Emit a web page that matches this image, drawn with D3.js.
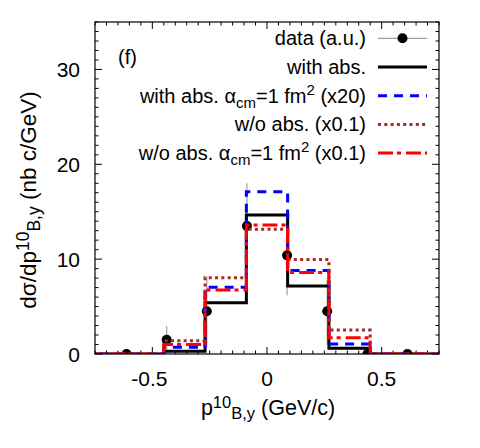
<!DOCTYPE html>
<html>
<head>
<meta charset="utf-8">
<script src="https://cdn.jsdelivr.net/npm/d3@7"></script>
<style>
  html, body { margin: 0; padding: 0; background: #fff; }
  svg { display: block; }
  text { font-family: "Liberation Sans", Arial, Helvetica, sans-serif; fill: #000; }
</style>
</head>
<body>
<svg id="chart" width="480" height="448"></svg>
<script>
// ---- data ----
const binEdges = [-0.45, -0.27, -0.09, 0.09, 0.27, 0.45];
const withAbs = [0.3, 5.4, 14.65, 7.17, 0.6];
const withAbsAlpha = [0.7, 7.05, 17.1, 8.8, 1.05];
const woAbs = [1.4, 8.05, 13.15, 9.95, 2.52];
const woAbsAlpha = [1.0, 6.75, 13.6, 8.6, 1.7];

const dataX = [-0.6125, -0.4375, -0.2625, -0.0875, 0.0875, 0.2625, 0.4375, 0.6125];
const dataY = [0, 1.5, 4.5, 13.5, 10.4, 4.5, 0, 0];
const dataErr = [0, 1.45, 3.7, 4.5, 4.2, 3.5, 0, 0];

const xTicks = [-0.5, 0, 0.5];
const xTickLabels = ["-0.5", "0", "0.5"];
const yTicks = [0, 10, 20, 30];
const yTickLabels = ["0", "10", "20", "30"];

// ---- layout ----
const svg = d3.select("#chart");
const L = 95, R = 439, T = 22, B = 354;
const x = d3.scaleLinear().domain([-0.75, 0.75]).range([L, R]);
const y = d3.scaleLinear().domain([0, 35]).range([B, T]);

const tickFs = 21, axisFs = 21.5, axisSubFs = 16.5, yAxisFs = 22.5, yAxisSubFs = 17.5, legFs = 20, legSubFs = 15;

svg.append("clipPath").attr("id", "clip")
  .append("rect").attr("x", L).attr("y", T).attr("width", R - L).attr("height", B - T);

// ticks (mirrored, inward)
const minorX = d3.range(-0.75, 0.7501, 0.05).map(v => +v.toFixed(3));
const minorY = d3.range(0, 35.01, 1);
const tg = svg.append("g").attr("stroke", "#000").attr("stroke-width", 1);
minorX.forEach(v => {
  const isMajor = xTicks.some(t => Math.abs(t - v) < 1e-6);
  const len = isMajor ? 7 : 3.5;
  tg.append("line").attr("x1", x(v)).attr("x2", x(v)).attr("y1", B).attr("y2", B - len);
  tg.append("line").attr("x1", x(v)).attr("x2", x(v)).attr("y1", T).attr("y2", T + len);
});
minorY.forEach(v => {
  const isMajor = yTicks.includes(v);
  const len = isMajor ? 7 : 3.5;
  tg.append("line").attr("y1", y(v)).attr("y2", y(v)).attr("x1", L).attr("x2", L + len);
  tg.append("line").attr("y1", y(v)).attr("y2", y(v)).attr("x1", R).attr("x2", R - len);
});

// tick labels
xTicks.forEach((v, i) => {
  svg.append("text").attr("x", x(v) - (v < 0 ? 3 : 0)).attr("y", 386).attr("text-anchor", "middle")
    .attr("font-size", tickFs).text(xTickLabels[i]);
});
yTicks.forEach((v, i) => {
  svg.append("text").attr("x", 80).attr("y", y(v) + 7.5).attr("text-anchor", "end")
    .attr("font-size", tickFs).text(yTickLabels[i]);
});

// axis titles
const xl = svg.append("text").attr("x", 268).attr("y", 415).attr("text-anchor", "middle").attr("font-size", axisFs);
xl.append("tspan").text("p");
xl.append("tspan").attr("font-size", axisSubFs).attr("dy", -7).text("10");
xl.append("tspan").attr("font-size", axisSubFs).attr("dy", 11).text("B,y");
xl.append("tspan").attr("dy", -4).text(" (GeV/c)");

const yl = svg.append("text").attr("transform", "translate(36,200) rotate(-90)")
  .attr("text-anchor", "middle").attr("font-size", yAxisFs);
yl.append("tspan").text("dσ/dp");
yl.append("tspan").attr("font-size", yAxisSubFs).attr("dy", -7).text("10");
yl.append("tspan").attr("font-size", yAxisSubFs).attr("dy", 11).text("B,y");
yl.append("tspan").attr("dy", -4).text(" (nb c/GeV)");

// (f)
svg.append("text").attr("x", 118).attr("y", 64).attr("font-size", legFs).text("(f)");

// ---- plot contents ----
const plot = svg.append("g").attr("clip-path", "url(#clip)");

// data error bars and points
const errColor = "#a0a0a0";
dataX.forEach((xv, i) => {
  if (dataErr[i] > 0) {
    plot.append("line").attr("x1", x(xv)).attr("x2", x(xv))
      .attr("y1", y(dataY[i] - dataErr[i])).attr("y2", y(dataY[i] + dataErr[i]))
      .attr("stroke", errColor).attr("stroke-width", 1.2);
  }
});
plot.selectAll("circle.pt").data(dataX).enter().append("circle")
  .attr("class", "pt")
  .attr("cx", d => x(d)).attr("cy", (d, i) => y(dataY[i])).attr("r", 5).attr("fill", "#000");

function stepPoints(vals) {
  const pts = [[-0.8, 0]];
  vals.forEach((v, i) => pts.push([binEdges[i], v]));
  pts.push([binEdges[binEdges.length - 1], 0]);
  pts.push([0.8, 0]);
  return pts;
}
const line = d3.line().x(d => x(d[0])).y(d => y(d[1])).curve(d3.curveStepAfter);

const series = [
  { vals: withAbs, color: "#000000", dash: null },
  { vals: withAbsAlpha, color: "#0000ff", dash: "9,7" },
  { vals: woAbs, color: "#a52a2a", dash: "3,3.3" },
  { vals: woAbsAlpha, color: "#ff0000", dash: "15,4,4,5" },
];
series.forEach(s => {
  plot.append("path").attr("d", line(stepPoints(s.vals)))
    .attr("fill", "none").attr("stroke", s.color).attr("stroke-width", 3)
    .attr("stroke-dasharray", s.dash);
});

// frame
svg.append("rect").attr("x", L).attr("y", T).attr("width", R - L).attr("height", B - T)
  .attr("fill", "none").attr("stroke", "#000").attr("stroke-width", 1.2);

// ---- legend ----
const legY0 = 38.3, legDy = 28.7, legTextX = 366, legL1 = 378, legL2 = 427;
function legText(row, parts) {
  const t = svg.append("text").attr("x", legTextX).attr("y", legY0 + row * legDy + 7)
    .attr("text-anchor", "end").attr("font-size", legFs);
  parts.forEach(p => {
    const ts = t.append("tspan").text(p.t);
    if (p.fs) ts.attr("font-size", p.fs);
    if (p.dy) ts.attr("dy", p.dy);
  });
}
legText(0, [{ t: "data (a.u.)" }]);
svg.append("line").attr("x1", legL1).attr("x2", legL2).attr("y1", legY0).attr("y2", legY0)
  .attr("stroke", errColor).attr("stroke-width", 1.2);
svg.append("circle").attr("cx", (legL1 + legL2) / 2).attr("cy", legY0).attr("r", 5).attr("fill", "#000");
legText(1, [{ t: "with abs." }]);
legText(2, [{ t: "with abs. α" }, { t: "cm", fs: legSubFs, dy: 5 }, { t: "=1 fm", dy: -5 }, { t: "2", fs: legSubFs, dy: -8 }, { t: " (x20)", dy: 8 }]);
legText(3, [{ t: "w/o abs. (x0.1)" }]);
legText(4, [{ t: "w/o abs. α" }, { t: "cm", fs: legSubFs, dy: 5 }, { t: "=1 fm", dy: -5 }, { t: "2", fs: legSubFs, dy: -8 }, { t: " (x0.1)", dy: 8 }]);

series.forEach((s, i) => {
  const yy = legY0 + (i + 1) * legDy;
  svg.append("line").attr("x1", legL1).attr("x2", legL2).attr("y1", yy).attr("y2", yy)
    .attr("stroke", s.color).attr("stroke-width", 3).attr("stroke-dasharray", s.dash);
});
</script>
</body>
</html>
